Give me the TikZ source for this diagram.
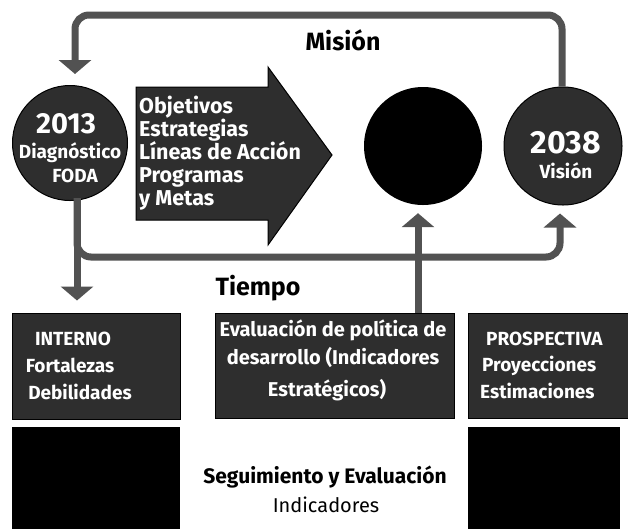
\documentclass[tikz,border=0pt]{standalone}
\usepackage{fontspec}
\setmainfont{Fira Sans}
\usetikzlibrary{arrows.meta}
\begin{document}
\begin{tikzpicture}[x=1pt,y=-1pt,
  noisy/.style={fill=black!82, draw=black, line width=1pt, inner sep=0pt},
  solid/.style={fill=black, inner sep=0pt},
  wtext/.style={text=white, inner sep=0pt, anchor=base},
  conn/.style={draw=black!68, line width=7pt},
  tipend/.style={-{Triangle[width=32pt,length=14pt]}},
  bigtitle/.style={inner sep=0pt, anchor=base, font=\fontsize{25}{28}\selectfont\bfseries},
  title/.style={inner sep=0pt, anchor=base, font=\fontsize{21}{24}\selectfont\bfseries}]
\useasboundingbox[fill=white] (0,0) rectangle (628,528);

% circles
\node[noisy, circle, minimum size=115pt] (c2013) at (70,143) {};
\node[solid, circle, minimum size=118pt] (cblack) at (423,146) {};
\node[noisy, circle, minimum size=118pt] (c2038) at (563,146) {};

% big arrow
\path[fill=black!82, draw=black, line width=1pt] (136,87) -- (268,87) -- (268,67) -- (332,155) -- (268,245) -- (268,220) -- (136,220) -- cycle;

% boxes
\node[noisy, minimum width=168pt, minimum height=106pt] (interno) at (96,366) {};
\node[noisy, minimum width=239pt, minimum height=105pt] (eval) at (334.5,365.5) {};
\node[noisy, minimum width=162pt, minimum height=105pt] (prosp) at (549,365.5) {};
\node[solid, minimum width=168pt, minimum height=110pt] (bl) at (96,482) {};
\node[solid, minimum width=152pt, minimum height=110pt] (br) at (544,482) {};

% texts in circles
\node[wtext, font=\fontsize{29}{30}\selectfont\bfseries] (t2013) at (66,133) {2013};
\node[wtext, font=\fontsize{19}{20}\selectfont\bfseries] (tdiag) at (70,158) {Diagnóstico};
\node[wtext, font=\fontsize{19}{20}\selectfont\bfseries] (tfoda) at (75,182) {FODA};
\node[wtext, font=\fontsize{32}{36}\selectfont\bfseries] (t2038) at (566,153) {2038};
\node[wtext, font=\fontsize{19}{20}\selectfont\bfseries] (tvision) at (566,178) {Visión};

% arrow text
\node[wtext, anchor=base west, font=\fontsize{21.5}{22}\selectfont\bfseries] (a1) at (139,113) {Objetivos};
\node[wtext, anchor=base west, font=\fontsize{21.5}{22}\selectfont\bfseries] (a2) at (139,136) {Estrategias};
\node[wtext, anchor=base west, font=\fontsize{21.5}{22}\selectfont\bfseries] (a3) at (139,159) {Líneas de Acción};
\node[wtext, anchor=base west, font=\fontsize{21.5}{22}\selectfont\bfseries] (a4) at (139,182) {Programas};
\node[wtext, anchor=base west, font=\fontsize{21.5}{22}\selectfont\bfseries] (a5) at (139,205) {y Metas};

% box texts
\node[wtext, font=\fontsize{19}{20}\selectfont\bfseries] (i1) at (73,345) {INTERNO};
\node[wtext, font=\fontsize{19}{20}\selectfont\bfseries] (i2) at (70,372) {Fortalezas};
\node[wtext, font=\fontsize{19}{20}\selectfont\bfseries] (i3) at (80,399) {Debilidades};
\node[wtext, font=\fontsize{20}{20}\selectfont\bfseries] (e1) at (333,336) {Evaluación de política de};
\node[wtext, font=\fontsize{20}{20}\selectfont\bfseries] (e2) at (333,364) {desarrollo (Indicadores};
\node[wtext, font=\fontsize{20}{20}\selectfont\bfseries] (e3) at (327,396) {Estratégicos)};
\node[wtext, anchor=base west, font=\fontsize{19}{20}\selectfont\bfseries] (p1) at (486,345) {PROSPECTIVA};
\node[wtext, anchor=base west, font=\fontsize{19}{20}\selectfont\bfseries] (p2) at (482,371) {Proyecciones};
\node[wtext, anchor=base west, font=\fontsize{19}{20}\selectfont\bfseries] (p3) at (480,398) {Estimaciones};

% titles
\node[bigtitle] (mision) at (343,50) {Misión};
\node[bigtitle] (tiempo) at (258,295) {Tiempo};
\node[title] (seg) at (325,483) {Seguimiento y Evaluación};
\node[inner sep=0pt, anchor=base, font=\fontsize{20}{22}\selectfont] (ind) at (326,512) {Indicadores};

% connectors
\coordinate (topR) at (562,15);
\coordinate (topL) at (75,15);
\coordinate (botL) at (77,257);
\coordinate (botR) at (560,257);
\draw[conn, tipend, rounded corners=14pt] ([xshift=-1pt]c2038.north) -- (topR) -- (topL) -- ([shift={(5,-11)}]c2013.north);
\draw[conn, tipend, rounded corners=14pt] ([shift={(7,-3)}]c2013.south) -- (botL) -- (botR) -- ([shift={(-3,8)}]c2038.south);
\draw[conn, tipend] ([shift={(7,-3)}]c2013.south) -- ([shift={(-19,-12)}]interno.north);
\draw[conn, tipend] ([xshift=-5pt]cblack.south |- eval.north) -- ([shift={(-5,8)}]cblack.south);
\end{tikzpicture}
\end{document}
